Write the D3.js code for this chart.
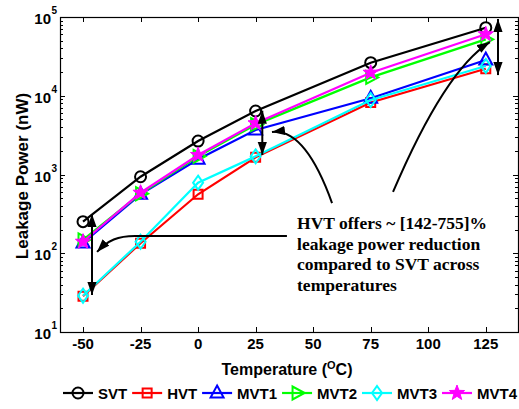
<!DOCTYPE html>
<html><head><meta charset="utf-8">
<script src="https://cdn.jsdelivr.net/npm/d3@7"></script>
<style>body{margin:0;background:#fff}svg{display:block}</style>
</head><body>
<svg id="chart" width="519" height="409"></svg>
<script>
// Leakage power (nW) per threshold-voltage flavour vs temperature (°C)
const temperatures = [-50, -25, 0, 25, 75, 125];
const svt  = [252, 937, 2660, 6400, 26300, 73100];
const hvt  = [28.5, 134, 561, 1650, 8200, 22000];
const mvt1 = [135, 560, 1560, 3670, 9280, 28400];
const mvt2 = [148, 570, 1700, 4300, 17100, 52000];
const mvt3 = [28.9, 140, 787, 1700, 8840, 23900];
const mvt4 = [140, 587, 1770, 4470, 19600, 60300];

const seriesNames   = ["SVT", "HVT", "MVT1", "MVT2", "MVT3", "MVT4"];
const seriesValues  = [svt, hvt, mvt1, mvt2, mvt3, mvt4];
const seriesColors  = ["#000000", "#ff0000", "#0000ff", "#00ff00", "#00ffff", "#ff00ff"];
const seriesMarkers = ["circle", "square", "triUp", "triRight", "diamond", "star"];

const xTicks = [-50, -25, 0, 25, 50, 75, 100, 125];
const yTickExponents = [1, 2, 3, 4, 5];

const annotationLines = [
  "HVT offers ~ [142-755]%",
  "leakage power reduction",
  "compared to SVT across",
  "temperatures"
];

const svg = d3.select("#chart");
const L = 60, R = 518, T = 17, B = 332;

const x = d3.scaleLinear().domain([-60, 139]).range([L, R]);
const y = d3.scaleLog().domain([10, 1e5]).range([B, T]);

const sans = "'Liberation Sans', Arial, Helvetica, sans-serif";
const serif = "'Liberation Serif', 'Times New Roman', serif";

// arrowhead marker
const defs = svg.append("defs");
defs.append("marker").attr("id", "head")
  .attr("markerUnits", "userSpaceOnUse")
  .attr("viewBox", "-13 -5 14 10").attr("refX", 0).attr("refY", 0)
  .attr("markerWidth", 14).attr("markerHeight", 10).attr("orient", "auto-start-reverse")
  .append("path").attr("d", "M0,0 L-13,-4.6 L-13,4.6 Z").attr("fill", "#000");

// ---------- axes ----------
const ax = svg.append("g").attr("stroke", "#000").attr("stroke-width", 1).attr("fill", "none");
// ticks on bottom and top
xTicks.forEach(t => {
  const px = Math.round(x(t)) + 0.5;
  ax.append("line").attr("x1", px).attr("x2", px).attr("y1", B).attr("y2", B - 5);
  ax.append("line").attr("x1", px).attr("x2", px).attr("y1", T).attr("y2", T + 5);
});
// log ticks, major and minor, on left and right
yTickExponents.forEach(e => {
  const base = Math.pow(10, e);
  const py = Math.round(y(base)) + 0.5;
  ax.append("line").attr("x1", L).attr("x2", L + 5).attr("y1", py).attr("y2", py);
  ax.append("line").attr("x1", R).attr("x2", R - 5).attr("y1", py).attr("y2", py);
  if (e < 5) {
    for (let k = 2; k <= 9; k++) {
      const my = Math.round(y(base * k)) + 0.5;
      ax.append("line").attr("x1", L).attr("x2", L + 3).attr("y1", my).attr("y2", my);
      ax.append("line").attr("x1", R).attr("x2", R - 3).attr("y1", my).attr("y2", my);
    }
  }
});
// frame
ax.append("rect").attr("x", L + 0.5).attr("y", T + 0.5)
  .attr("width", R - L).attr("height", B - T).attr("stroke-width", 1.2);

// tick labels
const xl = svg.append("g").attr("font-family", sans).attr("font-weight", "bold")
  .attr("font-size", 15).attr("text-anchor", "middle").attr("fill", "#000");
xTicks.forEach(t => xl.append("text").attr("x", x(t)).attr("y", B + 17).text(t));

const yl = svg.append("g").attr("font-family", sans).attr("font-weight", "bold").attr("fill", "#000");
yTickExponents.forEach(e => {
  const py = y(Math.pow(10, e));
  yl.append("text").attr("x", 51).attr("y", py + 7).attr("font-size", 15)
    .attr("text-anchor", "end").text("10");
  yl.append("text").attr("x", 51.5).attr("y", py - 3).attr("font-size", 10).text(e);
});

// axis titles
const xt = svg.append("text").attr("x", 287).attr("y", 375)
  .attr("font-family", sans).attr("font-weight", "bold").attr("font-size", 16)
  .attr("text-anchor", "middle");
xt.append("tspan").text("Temperature (");
xt.append("tspan").attr("font-size", 11).attr("dy", -6).text("O");
xt.append("tspan").attr("dy", 6).text("C)");

svg.append("text").attr("transform", "translate(28,176) rotate(-90)")
  .attr("font-family", sans).attr("font-weight", "bold").attr("font-size", 17)
  .attr("text-anchor", "middle").text("Leakage Power (nW)");

// ---------- markers ----------
function markerPath(type) {
  switch (type) {
    case "circle": return d3.symbol(d3.symbolCircle, Math.PI * 5.5 * 5.5)();
    case "square": return "M-4.5,-4.5H4.5V4.5H-4.5Z";
    case "triUp": return "M0,-7.5L6.5,4.5L-6.5,4.5Z";
    case "triRight": return "M7.5,0L-4.5,-6.5L-4.5,6.5Z";
    case "diamond": return "M0,-7L5,0L0,7L-5,0Z";
    case "star": {
      const pts = [];
      for (let i = 0; i < 10; i++) {
        const r = i % 2 === 0 ? 8 : 3.3;
        const a = -Math.PI / 2 + i * Math.PI / 5;
        pts.push([r * Math.cos(a), r * Math.sin(a)]);
      }
      return "M" + pts.map(p => p[0].toFixed(2) + "," + p[1].toFixed(2)).join("L") + "Z";
    }
  }
}
function drawMarker(g, type, color, cx, cy) {
  const filled = type === "star";
  g.append("path").attr("d", markerPath(type))
    .attr("transform", `translate(${cx},${cy})`)
    .attr("fill", filled ? color : "none")
    .attr("stroke", color).attr("stroke-width", filled ? 1 : 2)
    .attr("stroke-linejoin", "miter");
}

// ---------- series ----------
const line = d3.line().x(d => x(d[0])).y(d => y(d[1]));
const plot = svg.append("g");
seriesValues.forEach((vals, i) => {
  const pts = temperatures.map((t, j) => [t, vals[j]]);
  const g = plot.append("g");
  g.append("path").attr("d", line(pts)).attr("fill", "none")
    .attr("stroke", seriesColors[i]).attr("stroke-width", 2.2);
  pts.forEach(p => drawMarker(g, seriesMarkers[i], seriesColors[i], x(p[0]), y(p[1])));
});

// ---------- annotation ----------
const ann = svg.append("g").attr("fill", "none").attr("stroke", "#000").attr("stroke-width", 2);
// double arrows showing SVT to HVT gap
[[-46.1, 315, 29.5], [27.9, 6460, 1770], [130.3, 94400, 18300]].forEach(([t, v1, v2]) => {
  ann.append("line").attr("x1", x(t)).attr("x2", x(t)).attr("y1", y(v1)).attr("y2", y(v2))
    .attr("marker-start", "url(#head)").attr("marker-end", "url(#head)");
});
// callout curves from the text
const curve = (pts) => pts.map(p => [x(p[0]), y(p[1])]);
const c1 = curve([[58.2, 434], [46.5, 3895], [32.1, 3467]]);
ann.append("path").attr("d", `M${c1[0]}Q${c1[1]} ${c1[2]}`).attr("marker-end", "url(#head)");
const c2 = curve([[84.7, 600], [107.3, 21200], [126.8, 48100]]);
ann.append("path").attr("d", `M${c2[0]}Q${c2[1]} ${c2[2]}`).attr("marker-end", "url(#head)");
const c3 = curve([[38.6, 166], [-27.4, 166], [-34.8, 166], [-39.1, 147], [-43.9, 104]]);
ann.append("path").attr("d", `M${c3[0]}L${c3[1]}C${c3[2]} ${c3[3]} ${c3[4]}`).attr("marker-end", "url(#head)");

const at = svg.append("text").attr("font-family", serif).attr("font-weight", "bold")
  .attr("font-size", 17.5).attr("fill", "#000");
annotationLines.forEach((s, i) => {
  at.append("tspan").attr("x", x(43)).attr("y", 229 + i * 20.5).text(s);
});

// ---------- legend ----------
// items run from legendLeft to legendRight; the free space is shared between them
const legendLeft = 63, legendRight = 517, ly = 393;
const lg = svg.append("g").attr("font-family", sans).attr("font-weight", "bold").attr("font-size", 15);
const items = seriesNames.map((name, i) => {
  const g = lg.append("g");
  g.append("line").attr("x1", 0).attr("x2", 30).attr("y1", ly).attr("y2", ly)
    .attr("stroke", seriesColors[i]).attr("stroke-width", 2.2);
  drawMarker(g, seriesMarkers[i], seriesColors[i], 15, ly);
  const tx = g.append("text").attr("x", 35).attr("y", ly + 6).attr("fill", "#000").text(name);
  return { g, w: 35 + tx.node().getComputedTextLength() };
});
const used = d3.sum(items, d => d.w);
const gap = (legendRight - legendLeft - used) / (items.length - 1);
let lx = legendLeft;
items.forEach(it => {
  it.g.attr("transform", `translate(${lx},0)`);
  lx += it.w + gap;
});
</script>
</body></html>
